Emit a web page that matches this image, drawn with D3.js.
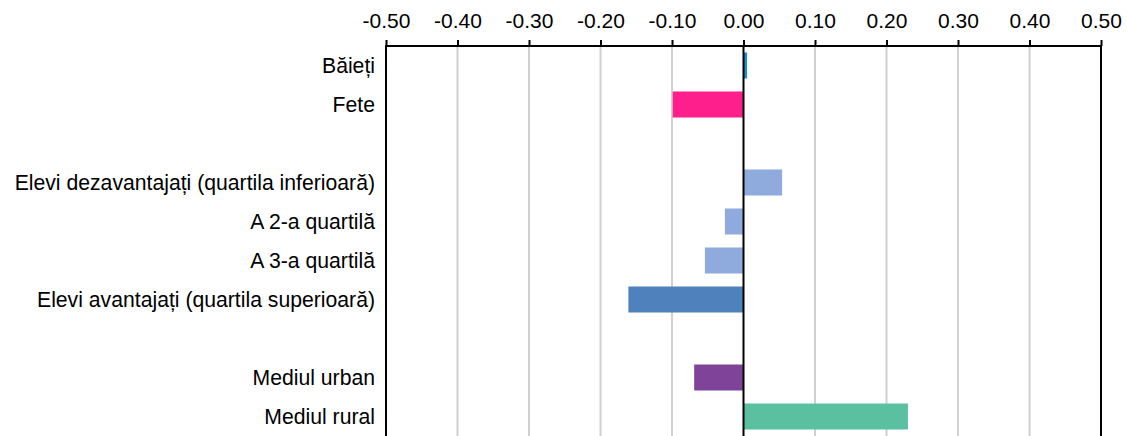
<!DOCTYPE html>
<html>
<head>
<meta charset="utf-8">
<script src="https://cdn.jsdelivr.net/npm/d3@7"></script>
<style>
  body { margin: 0; background: #fff; }
  text { font-family: "Liberation Sans", Arial, sans-serif; fill: #000; }
</style>
</head>
<body>
<svg id="chart" width="1127" height="436"></svg>
<script>
  // rows, top to bottom ("" = gap row)
  var categories = ["Băieți", "Fete", "", "Elevi dezavantajați (quartila inferioară)", "A 2-a quartilă",
                    "A 3-a quartilă", "Elevi avantajați (quartila superioară)", " ", "Mediul urban", "Mediul rural"];
  var values = [0.005, -0.099, null, 0.054, -0.026, -0.054, -0.161, null, -0.069, 0.230];
  var colors = ["#1a8fd0", "#ff1f8c", null, "#8faadc", "#8faadc", "#8faadc", "#4f81bd", null, "#7f4499", "#5ac0a0"];
  var ticks = [-0.5, -0.4, -0.3, -0.2, -0.1, 0, 0.1, 0.2, 0.3, 0.4, 0.5];

  var width = 1127, height = 436;
  var margin = {top: 46, right: 26, bottom: 0, left: 386};

  var svg = d3.select("#chart");

  var x = d3.scaleLinear()
      .domain([-0.5, 0.5])
      .range([margin.left, width - margin.right]);

  var y = d3.scaleBand()
      .domain(categories)
      .range([margin.top, height - margin.bottom])
      .paddingInner(0.333)
      .paddingOuter(0.1665);

  // gridlines
  svg.append("g")
    .selectAll("line").data(ticks.filter(t => t !== 0 && Math.abs(t) !== 0.5)).enter().append("line")
      .attr("x1", d => x(d)).attr("x2", d => x(d))
      .attr("y1", margin.top).attr("y2", height)
      .attr("stroke", "#d0d0d0")
      .attr("stroke-width", 2);

  // bars
  var data = categories.map((c, i) => ({cat: c, v: values[i], color: colors[i]})).filter(d => d.v !== null);
  svg.append("g")
    .selectAll("rect").data(data).enter().append("rect")
      .attr("x", d => x(Math.min(0, d.v)))
      .attr("width", d => Math.abs(x(d.v) - x(0)))
      .attr("y", d => y(d.cat))
      .attr("height", y.bandwidth())
      .attr("fill", d => d.color);

  // zero line and plot frame
  svg.append("line")
      .attr("x1", x(0)).attr("x2", x(0))
      .attr("y1", margin.top).attr("y2", height)
      .attr("stroke", "#000").attr("stroke-width", 2);

  svg.append("path")
      .attr("d", "M" + x(-0.5) + "," + height + "V" + margin.top + "H" + x(0.5) + "V" + height)
      .attr("fill", "none")
      .attr("stroke", "#000")
      .attr("stroke-width", 2);

  // top axis
  var xAxis = d3.axisTop(x)
      .tickValues(ticks)
      .tickSize(6)
      .tickPadding(12)
      .tickFormat(d3.format(".2f"));

  var axisG = svg.append("g")
      .attr("transform", "translate(0," + margin.top + ")")
      .call(xAxis);
  axisG.select(".domain").remove();
  axisG.selectAll(".tick line").attr("stroke", "#000").attr("stroke-width", 2);
  axisG.selectAll(".tick text")
      .attr("fill", "#000")
      .style("font-family", "'Liberation Sans', Arial, sans-serif")
      .style("font-size", "21px")
      .text(d => d3.format(".2f")(d).replace("−", "-"));

  // category labels
  svg.append("g")
    .selectAll("text").data(categories.filter(c => c.trim() !== "")).enter().append("text")
      .attr("x", margin.left - 11)
      .attr("y", d => y(d) + y.bandwidth() / 2)
      .attr("dy", "0.35em")
      .attr("text-anchor", "end")
      .style("font-size", "21.2px")
      .text(d => d);
</script>
</body>
</html>
